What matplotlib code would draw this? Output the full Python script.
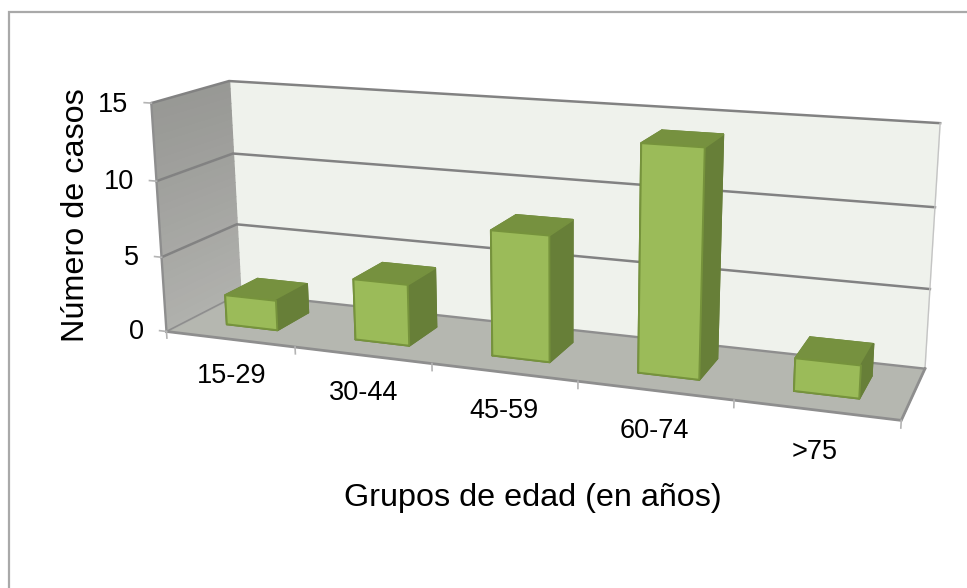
import numpy as np
import matplotlib
matplotlib.use("Agg")
import matplotlib.pyplot as plt
from matplotlib.lines import Line2D
from mpl_toolkits.mplot3d import proj3d
from mpl_toolkits.mplot3d.art3d import Poly3DCollection, Line3DCollection

plt.rcParams['font.family'] = ['Liberation Sans', 'DejaVu Sans']

groups = ['15-29', '30-44', '45-59', '60-74', '>75']
cases = [2, 4, 8, 14, 2]
y_ticks = [0, 5, 10, 15]
x_title = 'Grupos de edad (en años)'
y_title = 'Número de casos'

nx = len(groups)
zmax = y_ticks[-1]

# camera: world corner (category, depth, value) -> where it lands on the canvas
world = [(0, 0, 0), (nx, 0, 0), (0, 1, 0), (nx, 1, 0),
         (0, 0, zmax), (0, 1, zmax), (nx, 1, zmax),
         (0, 1, 5), (0, 1, 10), (nx, 1, 5), (nx, 1, 10),
         (1, 0, 0), (2, 0, 0), (3, 0, 0), (4, 0, 0)]
canvas = [(167, 331.5), (902, 420), (240, 294), (925, 368),
          (151, 103), (229.3, 81), (940, 123.5),
          (236.8, 224.5), (233, 153), (930, 289), (935, 207.5),
          (295, 347), (432, 363), (578, 382), (733, 400.5)]

rows = []
for (a, b, c), (u, v) in zip(world, canvas):
    rows.append([a, b, c, 1, 0, 0, 0, 0, -u * a, -u * b, -u * c, -u])
    rows.append([0, 0, 0, 0, a, b, c, 1, -v * a, -v * b, -v * c, -v])
cam = np.linalg.svd(np.array(rows, dtype=float))[2][-1].reshape(3, 4)
cam = cam / cam[2, 3]

# depth row only steers the painter sort of the bar faces
M = np.vstack([cam[0], cam[1], [-0.1, 1.0, -0.01, 0.0], cam[2]])

fig = plt.figure(figsize=(9.67, 5.88), dpi=100, facecolor='white')
ax = fig.add_axes([0, 0, 1, 1], projection='3d')
ax.get_proj = lambda: M
ax.apply_aspect = lambda position=None: None
ax.viewLim.intervalx = (0, 967)
ax.viewLim.intervaly = (588, 0)
ax.set_axis_off()
ax.set_xticks([])
ax.set_yticks([])
ax.set_zticks([])
ax.computed_zorder = False


def add_face(verts, color, lw=0.3):
    ax.add_collection3d(Poly3DCollection([verts], facecolors=color, edgecolors=color,
                                         linewidths=lw, zorder=1))


def add_line(points, color, lw):
    ax.add_collection3d(Line3DCollection([points], colors=color, linewidths=lw, zorder=2,
                                         capstyle='projecting', joinstyle='miter'))


def add_label(x, y, z, label, ha):
    u, v, _ = proj3d.proj_transform(x, y, z, M)
    ax.text2D(u, v, label, transform=ax.transData, fontsize=19.5, color='black',
              ha=ha, va='center', zorder=4)


# back wall and floor
add_face([(0, 1, 0), (nx, 1, 0), (nx, 1, zmax), (0, 1, zmax)], '#eff2ec')
add_face([(0, 0, 0), (nx, 0, 0), (nx, 1, 0), (0, 1, 0)], '#b5b7b0')

# left wall gets darker toward the top
bands = np.linspace(0, zmax, 31)
for i in range(30):
    mix = i / 29.0
    shade = (0xb0 + (0x98 - 0xb0) * mix) / 255.0
    add_face([(0, 0, bands[i]), (0, 1, bands[i]), (0, 1, bands[i + 1]), (0, 0, bands[i + 1])],
             (shade, shade + 0.002, shade - 0.012), lw=1.0)

line_grey = '#828282'
for val in y_ticks[1:]:
    add_line([(0, 0, val), (0, 1, val), (nx, 1, val)], line_grey, 1.8)
add_line([(nx, 1, 0), (nx, 1, zmax)], '#c4c4c4', 1.0)
add_line([(0, 0, 0), (0, 0, zmax)], '#8e8e8e', 1.7)
add_line([(0, 0, 0), (nx, 0, 0), (nx, 1, 0)], '#8e8e8e', 2.0)
add_line([(0, 0, 0), (0, 1, 0)], '#8e8e8e', 1.2)
add_line([(0, 1, 0), (nx, 1, 0)], '#8e8e8e', 1.7)

# tick marks
for i in range(nx + 1):
    add_line([(i, 0, 0), (i, 0, -0.45)], '#b4b4b4', 1.2)
for val in y_ticks:
    add_line([(-0.055, 0, val), (0, 0, val)], '#b4b4b4', 1.2)

# bars, face order from bar3d is bottom, top, front, back, left, right
bar_w = 0.4
bar_d = 0.45
bar_x = np.arange(nx) + 0.505 - bar_w / 2
bar_y = np.full(nx, 0.29)
face_cols = ['#677f38', '#76913f', '#9bbb59', '#677f38', '#677f38', '#677f38'] * nx
edge_cols = ['#677f38', '#76913f', '#76933c', '#677f38', '#677f38', '#677f38'] * nx
ax.bar3d(bar_x, bar_y, np.zeros(nx), bar_w, bar_d, cases, color=face_cols,
         edgecolor=edge_cols, linewidth=1.4, shade=False, zorder=3)

for i, name in enumerate(groups):
    add_label(i + 0.5, 0, -2.5, name, 'center')
for val in y_ticks:
    add_label(-0.18, 0, val - 0.2, str(val), 'right')

fig.text(533 / 967, 1 - 498 / 588, x_title, fontsize=23.3, ha='center', va='center')
fig.text(76 / 967, 1 - 215 / 588, y_title, fontsize=23.3, rotation=90, ha='center', va='center')

# chart frame, runs off the canvas on the right and at the bottom
fig.add_artist(Line2D([8.5 / 967, 8.5 / 967, 1], [0, 1 - 12 / 588, 1 - 12 / 588],
                      color='#a9a9a9', lw=1.6, solid_joinstyle='miter'))

fig.savefig('out.png', dpi=100, facecolor='white')
